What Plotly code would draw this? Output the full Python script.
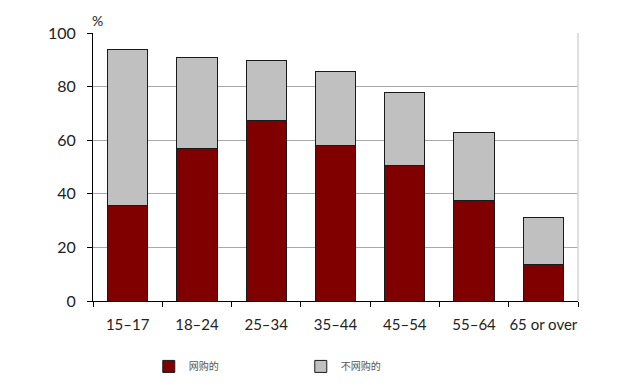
import plotly.graph_objects as go

categories = ["15–17", "18–24", "25–34", "35–44", "45–54", "55–64", "65 or over"]
online = [35.5, 57, 67.5, 58, 50.5, 37.5, 13.5]
not_online = [58.5, 33.7, 22.3, 27.5, 27.2, 25.5, 17.5]
y_ticks = [0, 20, 40, 60, 80, 100]

FONT = "Lato"

fig = go.Figure()
fig.add_trace(go.Bar(
    x=categories, y=online, name="网购的",
    marker=dict(color="#800000", line=dict(color="#1a1a1a", width=1)),
))
fig.add_trace(go.Bar(
    x=categories, y=not_online, name="不网购的",
    marker=dict(color="#c0c0c0", line=dict(color="#1a1a1a", width=1)),
))

fig.update_layout(
    barmode="stack",
    bargap=0.42,
    width=640, height=390,
    margin=dict(l=85, r=70, t=25, b=97, autoexpand=False),
    paper_bgcolor="white",
    plot_bgcolor="white",
    font=dict(family=FONT, color="#222"),
    showlegend=True,
    legend=dict(
        orientation="h", x=0.115, y=-0.19, xanchor="left", yanchor="top",
        entrywidth=107, entrywidthmode="pixels",
        font=dict(size=10, color="#555", family="Noto Sans CJK SC"),
        traceorder="normal",
    ),
    xaxis=dict(
        showline=True, linecolor="black", linewidth=1,
        ticks="outside", tickson="boundaries", ticklen=5, tickcolor="black",
        tickfont=dict(size=15, color="#222", family=FONT),
        tickangle=0, automargin=False, ticklabelstandoff=10,
        showgrid=False,
    ),
    yaxis=dict(
        range=[0, 100], tickvals=y_ticks,
        showline=True, linecolor="black", linewidth=1,
        ticks="outside", ticklen=5, tickcolor="black",
        tickfont=dict(size=16, color="#222", family=FONT),
        automargin=False, ticklabelstandoff=8,
        showgrid=True, gridcolor="#a8a8a8", gridwidth=1,
        zeroline=False,
    ),
    annotations=[dict(
        text="%", xref="paper", yref="paper", x=0.01, y=1.0485,
        xanchor="center", yanchor="middle", showarrow=False,
        font=dict(size=14, color="#222", family=FONT),
    )],
    shapes=[dict(
        type="line", xref="paper", yref="paper", x0=1, x1=1, y0=0, y1=1,
        line=dict(color="#d5d5d5", width=1.5),
    )],
)

fig.write_html("out.html")
